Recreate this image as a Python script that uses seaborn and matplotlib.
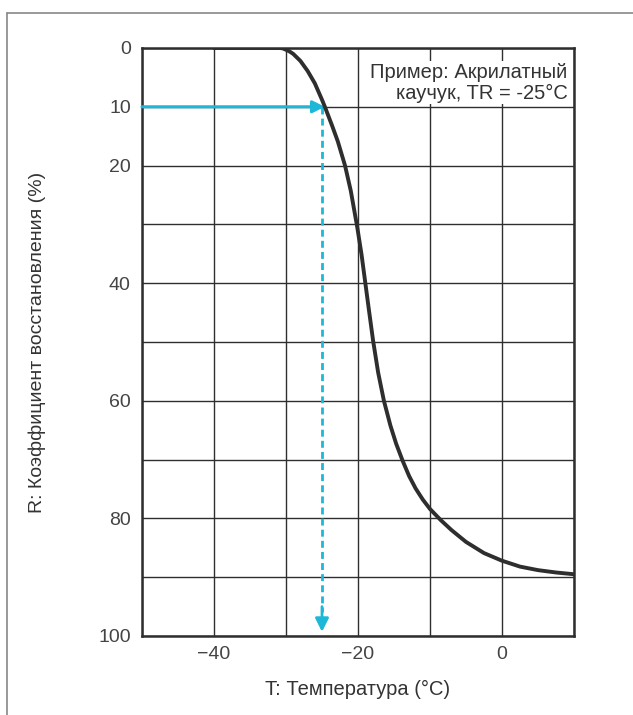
import pandas as pd
import seaborn as sns
import matplotlib.pyplot as plt
from matplotlib.lines import Line2D

# curve: temperature (C) vs recovery R (%)
temp = [-40, -35, -31, -30.5, -30, -29.5, -29, -28, -27, -26, -25, -24.6,
        -23.6, -22.8, -21.8, -21, -20.1, -19.5, -19.0, -18.5, -17.9, -17.2,
        -16.4, -15.5, -14.7, -13.8, -12.9, -12, -11, -10, -8.5, -7, -5,
        -2.5, 0, 2.5, 5, 7.5, 10]
recovery = [0, 0, 0, 0.05, 0.3, 0.6, 1.0, 2.2, 3.9, 6.0, 8.8, 10,
            13.2, 15.9, 20, 24.3, 30.5, 35.2, 39.8, 44.4, 49.8, 55.2,
            60, 64.2, 67.3, 70.2, 72.8, 74.9, 76.8, 78.4, 80.3, 82.0, 84.0,
            85.9, 87.2, 88.2, 88.8, 89.2, 89.5]

x_ticks = [-40, -20, 0]
x_grid = [-50, -40, -30, -20, -10, 0, 10]
y_ticks = [0, 10, 20, 40, 60, 80, 100]
y_grid = [0, 10, 20, 30, 40, 50, 60, 70, 80, 90, 100]
tr_temp = -25
tr_rec = 10

sns.set_style('white')
plt.rcParams['font.family'] = ['Liberation Sans', 'DejaVu Sans']

df = pd.DataFrame({'T': temp, 'R': recovery})

fig = plt.figure(figsize=(6.33, 7.15), dpi=100)
ax = fig.add_axes([0.2243, 0.1105, 0.6825, 0.8224])

dark = '#2e2e2e'
cyan = '#1db8d8'

# grid
for gx in x_grid:
    ax.axvline(gx, color=dark, lw=1.0, zorder=1)
for gy in y_grid:
    ax.axhline(gy, color=dark, lw=1.0, zorder=1)

# TR construction lines
ax.annotate('', xy=(tr_temp + 0.4, tr_rec), xytext=(-50, tr_rec),
            arrowprops=dict(arrowstyle='-|>', color=cyan, lw=2.2,
                            mutation_scale=18, shrinkA=0, shrinkB=0), zorder=3)
ax.plot([tr_temp, tr_temp], [tr_rec, 96], color=cyan, lw=2.0,
        ls=(0, (2.5, 1.5)), zorder=3)
ax.annotate('', xy=(tr_temp, 99.3), xytext=(tr_temp, 95),
            arrowprops=dict(arrowstyle='-|>', color=cyan, lw=2.0,
                            mutation_scale=20, shrinkA=0, shrinkB=0), zorder=3)

sns.lineplot(data=df, x='T', y='R', ax=ax, color=dark, lw=2.8, zorder=4)

ax.set_xlim(-50, 10)
ax.set_ylim(100, 0)
ax.set_xticks(x_ticks)
ax.set_yticks(y_grid)
ax.set_yticklabels([str(v) if v in y_ticks else '' for v in y_grid])
ax.tick_params(axis='y', length=3, width=1, color=dark, pad=5,
               labelsize=14, labelcolor='#444444')
ax.tick_params(axis='x', length=0, pad=7, labelsize=14, labelcolor='#444444')

for s in ax.spines.values():
    s.set_color(dark)
    s.set_linewidth(1.8)
    s.set_visible(True)

ax.set_xlabel('T: Температура (°C)', fontsize=14.5, color='#333333')
ax.set_ylabel('R: Коэффициент восстановления (%)', fontsize=14, color='#333333')
ax.xaxis.set_label_coords(0.5, -0.075)
ax.yaxis.set_label_coords(-0.222, 0.5)

ax.text(0.985, 0.975, 'Пример: Акрилатный\nкаучук, TR = -25°C',
        transform=ax.transAxes, ha='right', va='top', fontsize=14.5,
        color='#333333', linespacing=1.15, zorder=5,
        bbox=dict(facecolor='white', edgecolor='none', pad=1))

# outer frame (left and top edges only visible)
fig.add_artist(Line2D([0.011, 0.011], [0.0, 0.982], color='#888888', lw=1.2,
                      transform=fig.transFigure))
fig.add_artist(Line2D([0.011, 1.0], [0.982, 0.982], color='#888888', lw=1.2,
                      transform=fig.transFigure))

fig.savefig('out.png', dpi=100)
